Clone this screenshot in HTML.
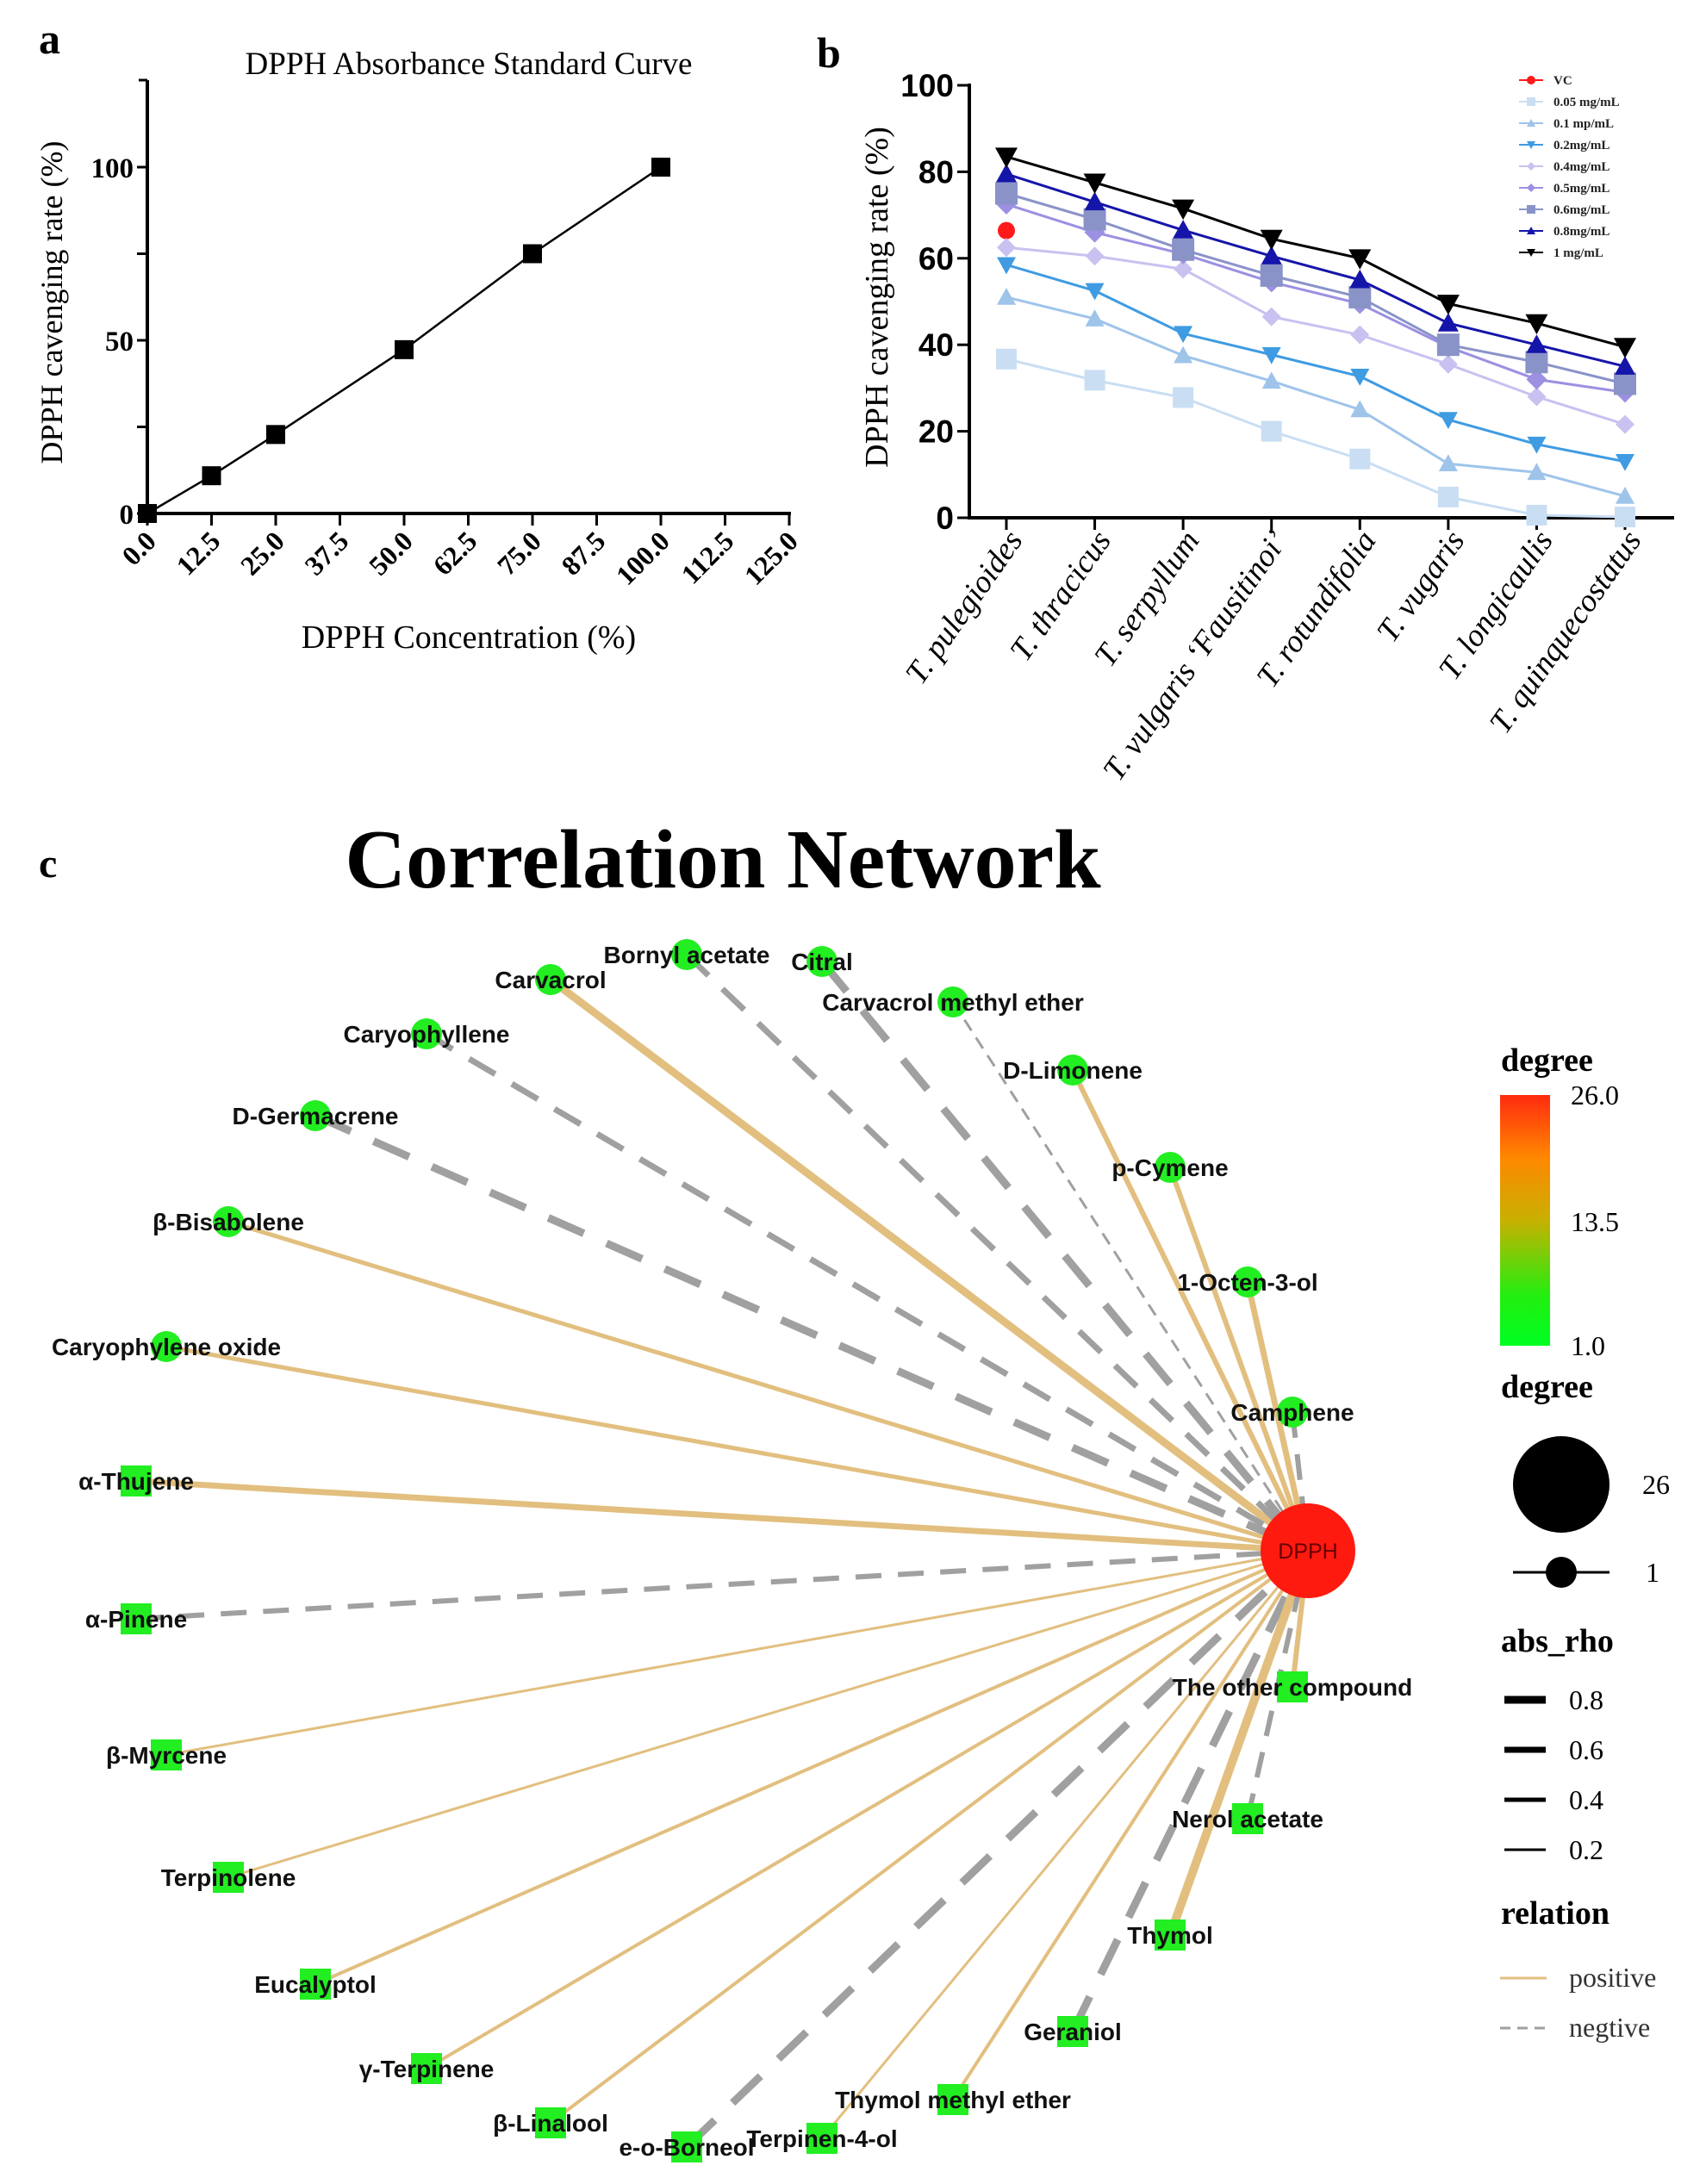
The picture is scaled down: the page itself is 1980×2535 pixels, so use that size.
<!DOCTYPE html>
<html><head><meta charset="utf-8"><style>
html,body{margin:0;padding:0;background:#fff}
svg{display:block}
.serif{font-family:"Liberation Serif",serif}
.sans{font-family:"Liberation Sans",sans-serif}
</style></head><body>
<svg id="root" xmlns="http://www.w3.org/2000/svg" width="1980" height="2535" viewBox="0 0 1980 2535">
<rect width="1980" height="2535" fill="#fff"/>
<g id="pa"></g>
<g id="pb"></g>
<g id="pc"></g>
</svg>
<script>
// ---------- Panel a data ----------
const aX = [0, 12.5, 25, 50, 75, 100];
const aY = [0, 10.9, 22.8, 47.3, 75, 100];
const aXTicks = ["0.0","12.5","25.0","37.5","50.0","62.5","75.0","87.5","100.0","112.5","125.0"];
const aYTicks = [0,25,50,75,100];
const aYLabels = ["0","","50","","100"];

// ---------- Panel b data ----------
const bCats = ["T. pulegioides","T. thracicus","T. serpyllum","T. vulgaris \u2018Fausitinoi\u2019","T. rotundifolia","T. vugaris","T. longicaulis","T. quinquecostatus"];
const bNames = ["VC","0.05 mg/mL","0.1 mp/mL","0.2mg/mL","0.4mg/mL","0.5mg/mL","0.6mg/mL","0.8mg/mL","1 mg/mL"];
const sVC   = [66.4];
const s005  = [36.7,31.8,27.8,20,13.6,4.8,0.6,0.2];
const s01   = [51,46,37.5,31.6,25,12.5,10.5,5];
const s02   = [58.5,52.5,42.6,37.7,32.7,22.7,17,13];
const s04   = [62.5,60.5,57.5,46.5,42.3,35.5,28,21.6];
const s05   = [72.5,66,61,54.5,49.5,39.5,32,29];
const s06   = [75,69,62,56,51,40,36,31];
const s08   = [79.5,73,66.5,60.5,55,45,40,35];
const s1    = [83.5,77.5,71.5,64.5,60,49.5,45,39.5];
const bYTicks = [0,20,40,60,80,100];

// ---------- Panel c data ----------
const cNodes = ["Carvacrol","Bornyl acetate","Citral","Carvacrol methyl ether","D-Limonene","p-Cymene","1-Octen-3-ol","Camphene","Caryophyllene","D-Germacrene","\u03b2-Bisabolene","Caryophylene oxide","\u03b1-Thujene","\u03b1-Pinene","\u03b2-Myrcene","Terpinolene","Eucalyptol","\u03b3-Terpinene","\u03b2-Linalool","e-o-Borneol","Terpinen-4-ol","Thymol methyl ether","Geraniol","Thymol","Nerol acetate","The other compound"];
const cRho = [0.8,0.6,0.8,0.2,0.5,0.5,0.6,0.5,0.6,0.8,0.4,0.4,0.6,0.5,0.2,0.2,0.3,0.3,0.3,0.8,0.2,0.3,0.8,0.9,0.5,0.5];
const cRel = ["p","n","n","n","p","p","p","n","n","n","p","p","p","n","p","p","p","p","p","n","p","p","n","p","n","p"];
const cShape = ["c","c","c","c","c","c","c","c","c","c","c","c","s","s","s","s","s","s","s","s","s","s","s","s","s","s"];
const cPosX = [639,797,954,1106,1245,1358,1448,1500,495,366,265,193,158,158,193,265,366,495,639,797,954,1106,1245,1358,1448,1500];
const cPosY = [1137,1108,1116,1163,1242,1355,1488,1639,1200,1295,1418,1563,1719,1879,2037,2179,2303,2401,2464,2492,2482,2437,2358,2246,2111,1958];
const legRho = [0.8,0.6,0.4,0.2];

const NS="http://www.w3.org/2000/svg";
function el(tag, attrs, parent){const e=document.createElementNS(NS,tag);for(const k in attrs)e.setAttribute(k,attrs[k]);if(parent)parent.appendChild(e);return e;}
function txt(parent, s, attrs){const t=el('text',attrs,parent);t.textContent=s;return t;}

// ===== Panel A =====
(function(){
const g=document.getElementById('pa');
const x0=171,x1=916,y0=596,y100=194,yTop=93;
const sx=v=>x0+(v/125)*(x1-x0);
const sy=v=>y0-(v/100)*(y0-y100);
let t=txt(g,"a",{x:45,y:62,class:"serif","font-size":50,"font-weight":"bold"});

t=txt(g,"DPPH Absorbance Standard Curve",{x:544,y:86,class:"serif","font-size":37,"text-anchor":"middle"});

let ax=el('line',{x1:x0,y1:yTop,x2:x0,y2:y0+2,stroke:"#000","stroke-width":4},g);

ax=el('line',{x1:x0-2,y1:y0,x2:x1+2,y2:y0,stroke:"#000","stroke-width":4},g);

el('line',{x1:x0-10,y1:yTop,x2:x0,y2:yTop,stroke:"#000","stroke-width":3},g);
aYTicks.forEach((v,i)=>{
  el('line',{x1:x0-12,y1:sy(v),x2:x0,y2:sy(v),stroke:"#000","stroke-width":3},g);
  if(aYLabels[i]){const l=txt(g,aYLabels[i],{x:x0-16,y:sy(v)+12,class:"serif","font-size":33,"font-weight":"bold","text-anchor":"end"});
  }
});
aXTicks.forEach((s,i)=>{
  const xv=sx(i*12.5);
  el('line',{x1:xv,y1:y0,x2:xv,y2:y0+14,stroke:"#000","stroke-width":3},g);
  const l=txt(g,s,{x:xv+12,y:y0+34,class:"serif","font-size":32,"font-weight":"bold","text-anchor":"end",transform:`rotate(-45 ${xv+12} ${y0+34})`});
  
});
t=txt(g,"DPPH Concentration (%)",{x:544,y:752,class:"serif","font-size":38,"text-anchor":"middle"});

t=txt(g,"DPPH cavenging rate (%)",{x:72,y:351,class:"serif","font-size":36,"text-anchor":"middle",transform:"rotate(-90 72 351)"});

const pts=aX.map((v,i)=>sx(v)+","+sy(aY[i])).join(" ");
const pl=el('polyline',{points:pts,fill:"none",stroke:"#000","stroke-width":2.5},g);

aX.forEach((v,i)=>{const r=el('rect',{x:sx(v)-11,y:sy(aY[i])-11,width:22,height:22,fill:"#000"},g);
});
})();

// ===== Panel B =====
(function(){
const g=document.getElementById('pb');
const x0=1125,x1=1943,y0=601,y100=99;
const sy=v=>y0-(v/100)*(y0-y100);
const cx=i=>1168+i*(1886-1168)/7;
let t=txt(g,"b",{x:948,y:78,class:"serif","font-size":50,"font-weight":"bold"});

let ax=el('line',{x1:x0,y1:y100-2,x2:x0,y2:y0+2,stroke:"#000","stroke-width":4},g);

ax=el('line',{x1:x0-2,y1:y0,x2:x1,y2:y0,stroke:"#000","stroke-width":4},g);

bYTicks.forEach(v=>{
  el('line',{x1:x0-14,y1:sy(v),x2:x0,y2:sy(v),stroke:"#000","stroke-width":3},g);
  const l=txt(g,String(v),{x:x0-18,y:sy(v)+13,class:"sans","font-size":37,"font-weight":"bold","text-anchor":"end"});
  
});
bCats.forEach((c,i)=>{
  el('line',{x1:cx(i),y1:y0,x2:cx(i),y2:y0+14,stroke:"#000","stroke-width":3},g);
  const ax2=cx(i)+20, ay=y0+26;
  const l=txt(g,c,{x:ax2,y:ay,class:"serif","font-size":37,"font-style":"italic","text-anchor":"end",transform:`rotate(-55 ${ax2} ${ay})`});
  
});
t=txt(g,"DPPH cavenging rate (%)",{x:1030,y:345,class:"serif","font-size":38,"text-anchor":"middle",transform:"rotate(-90 1030 345)"});


const series=[sVC,s005,s01,s02,s04,s05,s06,s08,s1];
const colors=["#ff1a1a","#c9def3","#9ec4ea","#3f9be2","#c9c1f0","#9b90e2","#8a93c8","#1515aa","#000000"];
const shapes=["circle","square","tri","tridown","diamond","diamond","square","tri","tridown"];
const sizes=[10,12,11,11,11,12,13,12,13];
function marker(par,shape,x,y,r,col){
  let m;
  if(shape==="circle") m=el('circle',{cx:x,cy:y,r:r,fill:col},par);
  else if(shape==="square") m=el('rect',{x:x-r,y:y-r,width:2*r,height:2*r,fill:col},par);
  else if(shape==="tri") m=el('polygon',{points:`${x},${y-r} ${x+r},${y+r*0.8} ${x-r},${y+r*0.8}`,fill:col},par);
  else if(shape==="tridown") m=el('polygon',{points:`${x},${y+r} ${x+r},${y-r*0.8} ${x-r},${y-r*0.8}`,fill:col},par);
  else m=el('polygon',{points:`${x},${y-r} ${x+r},${y} ${x},${y+r} ${x-r},${y}`,fill:col},par);
  return m;
}
series.forEach((s,k)=>{
  const sg=el('g',{},g);
  
  
  if(s.length>1){
    const pl=el('polyline',{points:s.map((v,i)=>cx(i)+","+sy(v)).join(" "),fill:"none",stroke:colors[k],"stroke-width":3},sg);
    
  }
  s.forEach((v,i)=>{const m=marker(sg,shapes[k],cx(i),sy(v),sizes[k],colors[k]);
    });
});
const lg=el('g',{},g);

bNames.forEach((n,k)=>{
  const y=93+k*25;
  const e=el('g',{},lg);
  
  el('line',{x1:1763,y1:y,x2:1791,y2:y,stroke:colors[k],"stroke-width":2},e);
  marker(e,shapes[k],1777,y,5,colors[k]);
  txt(e,n,{x:1803,y:y+5,class:"serif","font-size":15,"font-weight":"bold",fill:"#222"});
});
})();

// ===== Panel C =====
(function(){
const g=document.getElementById('pc');
const DX=1518,DY=1800;
let t=txt(g,"c",{x:45,y:1018,class:"serif","font-size":48,"font-weight":"bold"});

t=txt(g,"Correlation Network",{x:839,y:1030,class:"serif","font-size":98,"font-weight":"bold","text-anchor":"middle"});

const eg=el('g',{},g);

cNodes.forEach((n,i)=>{
  const w=1+cRho[i]*10;
  const pos=cRel[i]==="p";
  const ln=el('line',{x1:cPosX[i],y1:cPosY[i],x2:DX,y2:DY,stroke:pos?"#e2bf7f":"#a0a0a0","stroke-width":w,"stroke-dasharray":pos?"none":(w*5)+" "+(w*3.2)},eg);
  
  
});
const ng=el('g',{},g);

cNodes.forEach((n,i)=>{
  const x=cPosX[i],y=cPosY[i];
  let m;
  if(cShape[i]==="c") m=el('circle',{cx:x,cy:y,r:18,fill:"#22ee22"},ng);
  else m=el('rect',{x:x-18,y:y-18,width:36,height:36,fill:"#22ee22"},ng);
  
});
const dp=el('circle',{cx:DX,cy:DY,r:55,fill:"#ff1a10"},ng);

t=txt(g,"DPPH",{x:DX,y:DY+9,class:"sans","font-size":25,"text-anchor":"middle",fill:"#600"});

cNodes.forEach((n,i)=>{
  const l=txt(g,n,{x:cPosX[i],y:cPosY[i]+10,class:"sans","font-size":28,"font-weight":"bold","text-anchor":"middle",fill:"#111"});
  
});
const lg=el('g',{},g);

const defs=el('defs',{},lg);
const grad=el('linearGradient',{id:"dg",x1:0,y1:1,x2:0,y2:0},defs);
el('stop',{offset:"0",  "stop-color":"#00ff22"},grad);
el('stop',{offset:"0.2","stop-color":"#22ee10"},grad);
el('stop',{offset:"0.5","stop-color":"#c8b000"},grad);
el('stop',{offset:"0.75","stop-color":"#ff8800"},grad);
el('stop',{offset:"1",  "stop-color":"#ff2a10"},grad);
t=txt(lg,"degree",{x:1742,y:1243,class:"serif","font-size":38,"font-weight":"bold"});

let cb=el('rect',{x:1741,y:1271,width:58,height:291,fill:"url(#dg)"},lg);

[["26.0",1271],["13.5",1418],["1.0",1562]].forEach(a=>{
  const l=txt(lg,a[0],{x:1823,y:a[1]+11,class:"serif","font-size":32});
  
});
t=txt(lg,"degree",{x:1742,y:1622,class:"serif","font-size":38,"font-weight":"bold"});

let c=el('circle',{cx:1812,cy:1723,r:56,fill:"#000"},lg);

txt(lg,"26",{x:1906,y:1734,class:"serif","font-size":32});
el('line',{x1:1756,y1:1825,x2:1868,y2:1825,stroke:"#000","stroke-width":3},lg);
c=el('circle',{cx:1812,cy:1825,r:18,fill:"#000"},lg);

txt(lg,"1",{x:1910,y:1836,class:"serif","font-size":32});
t=txt(lg,"abs_rho",{x:1742,y:1917,class:"serif","font-size":38,"font-weight":"bold"});

legRho.forEach((r,i)=>{
  const y=1973+i*58;
  const e=el('g',{},lg);
  
  el('line',{x1:1746,y1:y,x2:1794,y2:y,stroke:"#000","stroke-width":1+r*10},e);
  txt(e,r.toFixed(1),{x:1821,y:y+11,class:"serif","font-size":32});
});
t=txt(lg,"relation",{x:1742,y:2233,class:"serif","font-size":38,"font-weight":"bold"});

let e=el('g',{},lg);

el('line',{x1:1741,y1:2296,x2:1795,y2:2296,stroke:"#e2bf7f","stroke-width":3},e);
txt(e,"positive",{x:1821,y:2306,class:"serif","font-size":32,fill:"#333"});
e=el('g',{},lg);

el('line',{x1:1741,y1:2354,x2:1795,y2:2354,stroke:"#a0a0a0","stroke-width":3,"stroke-dasharray":"12 8"},e);
txt(e,"negtive",{x:1821,y:2364,class:"serif","font-size":32,fill:"#333"});
})();
</script>
</body></html>
